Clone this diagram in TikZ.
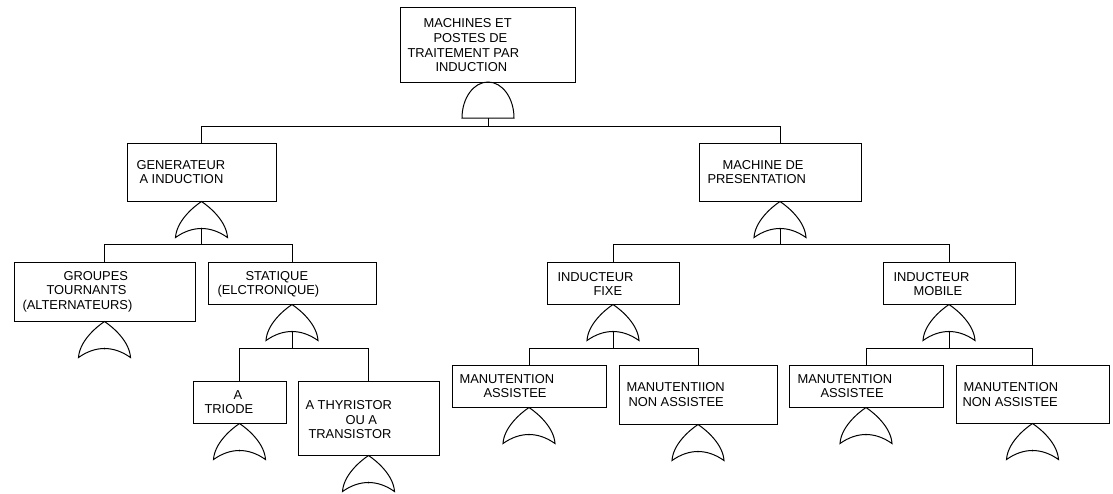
\documentclass[tikz,border=0pt]{standalone}
\usepackage{fontspec}
\setmainfont{Liberation Sans}
\begin{document}
\begin{tikzpicture}[x=1pt,y=-1pt,
  line width=1pt, line join=miter,
  box/.style={draw, rectangle, inner sep=0pt, line width=1pt},
  txt/.style={inner sep=0pt, anchor=west, text height=9pt, text depth=0pt,
              font=\fontsize{12.9}{14}\selectfont},
  % OR gate: origin at the tip, concave base below
  orgate/.pic={
    \draw[line width=1pt] (-26,36) .. controls (-25,20) and (-9,6) .. (0,0)
          .. controls (9,6) and (25,20) .. (26,36)
          .. controls (9,24) and (-9,24) .. cycle;
    \coordinate (-out) at (0,27);
    \fill (0,27) circle (0.9pt);
  },
  % AND gate: origin at the top of the dome, flat base below
  andgate/.pic={
    \draw[line width=1pt] (-26,36) .. controls (-26,16.1) and (-14.36,0) .. (0,0)
          .. controls (14.36,0) and (26,16.1) .. (26,36) -- cycle;
    \coordinate (-out) at (0,36);
  }
]
\useasboundingbox (0,0) rectangle (1113,493);

% ---- boxes ----
\node[box, minimum width=175pt, minimum height=75pt] (top)  at (487.5,44.5) {};
\node[box, minimum width=149pt, minimum height=58pt] (gen)  at (201.5,172) {};
\node[box, minimum width=162pt, minimum height=58pt] (mach) at (780,172) {};
\node[box, minimum width=181pt, minimum height=59pt] (grp)  at (104.5,291.5) {};
\node[box, minimum width=168pt, minimum height=42pt] (stat) at (292,283) {};
\node[box, minimum width=93pt,  minimum height=42pt] (tri)  at (239.5,402) {};
\node[box, minimum width=141pt, minimum height=74pt] (thy)  at (368.5,418) {};
\node[box, minimum width=132pt, minimum height=42pt] (fix)  at (613,283) {};
\node[box, minimum width=132pt, minimum height=42pt] (mob)  at (949,283) {};
\node[box, minimum width=154pt, minimum height=42pt] (maA)  at (529,386) {};
\node[box, minimum width=158pt, minimum height=59pt] (mnA)  at (698,394.5) {};
\node[box, minimum width=154pt, minimum height=42pt] (maB)  at (866,386) {};
\node[box, minimum width=153pt, minimum height=58pt] (mnB)  at (1032.5,394) {};

% ---- labels ----
\node[txt] (l1) at (423,23) {MACHINES ET};
\node[txt] (l2) at (433,38) {POSTES DE};
\node[txt] (l3) at (407,53) {TRAITEMENT PAR};
\node[txt] (l4) at (435,67) {INDUCTION};
\node[txt] (l5) at (136,165) {GENERATEUR};
\node[txt] (l6) at (139,179) {A INDUCTION};
\node[txt] (l7) at (722,165) {MACHINE DE};
\node[txt] (l8) at (707,179) {PRESENTATION};
\node[txt] (l9) at (63,276) {GROUPES};
\node[txt] (l10) at (46,290) {TOURNANTS};
\node[txt] (l11) at (22,305) {(ALTERNATEURS)};
\node[txt] (l12) at (245,276) {STATIQUE};
\node[txt] (l13) at (217,290) {(ELCTRONIQUE)};
\node[txt] (l14) at (233,395) {A};
\node[txt] (l15) at (204,409) {TRIODE};
\node[txt] (l16) at (305,405) {A THYRISTOR};
\node[txt] (l17) at (345,420) {OU A};
\node[txt] (l18) at (308,434) {TRANSISTOR};
\node[txt] (l19) at (557,277) {INDUCTEUR};
\node[txt] (l20) at (593,291) {FIXE};
\node[txt] (l21) at (893,277) {INDUCTEUR};
\node[txt] (l22) at (913,291) {MOBILE};
\node[txt] (l23) at (459,379) {MANUTENTION};
\node[txt] (l24) at (483,393) {ASSISTEE};
\node[txt] (l25) at (626,387) {MANUTENTIION};
\node[txt] (l26) at (628,402) {NON ASSISTEE};
\node[txt] (l27) at (797,379) {MANUTENTION};
\node[txt] (l28) at (820,393) {ASSISTEE};
\node[txt] (l29) at (963,387) {MANUTENTION};
\node[txt] (l30) at (962,402) {NON ASSISTEE};

% ---- gates ----
\pic (gTop)  at (488,82)   {andgate};
\pic (gGen)  at (gen.south)  {orgate};
\pic (gMach) at (mach.south) {orgate};
\pic (gGrp)  at (grp.south)  {orgate};
\pic (gStat) at (stat.south) {orgate};
\pic (gTri)  at (tri.south)  {orgate};
\pic (gThy)  at (thy.south)  {orgate};
\pic (gFix)  at (fix.south)  {orgate};
\pic (gMob)  at (mob.south)  {orgate};
\pic (gMaA)  at (maA.south)  {orgate};
\pic (gMnA)  at (mnA.south)  {orgate};
\pic (gMaB)  at (maB.south)  {orgate};
\pic (gMnB)  at (mnB.south)  {orgate};

% ---- connectors ----
\draw (gTop-out) -- ++(0,8) coordinate (busTop);
\draw (busTop) -| (gen.north);
\draw (busTop) -| (mach.north);

\draw (gGen-out) -- ++(0,16) coordinate (busGen);
\draw (busGen) -| (grp.north);
\draw (busGen) -| (stat.north);

\draw (gMach-out) -- ++(0,16) coordinate (busMach);
\draw (busMach) -| (fix.north);
\draw (busMach) -| (mob.north);

\draw (gStat-out) -- ++(0,17) coordinate (busStat);
\draw (busStat) -| (tri.north);
\draw (busStat) -| (thy.north);

\draw (gFix-out) -- ++(0,17) coordinate (busFix);
\draw (busFix) -| (maA.north);
\draw (busFix) -| (mnA.north);

\draw (gMob-out) -- ++(0,17) coordinate (busMob);
\draw (busMob) -| (maB.north);
\draw (busMob) -| (mnB.north);
\end{tikzpicture}
\end{document}
